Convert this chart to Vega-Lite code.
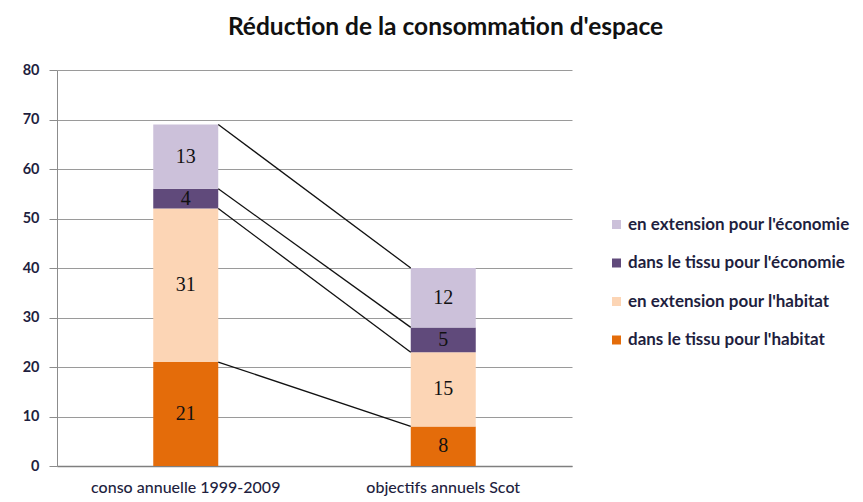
{
  "$schema": "https://vega.github.io/schema/vega-lite/v6.json",
  "width": 515,
  "height": 396,
  "autosize": {"type": "none"},
  "padding": {"left": 57, "top": 70, "right": 291, "bottom": 36},
  "background": "white",
  "title": {
    "text": "Réduction de la consommation d'espace",
    "font": "Lato",
    "fontSize": 24.5,
    "fontWeight": "bold",
    "color": "#111111",
    "anchor": "middle",
    "dx": 131,
    "offset": 22
  },
  "config": {
    "view": {"stroke": null},
    "axis": {"labelFont": "Lato", "labelColor": "#1f1f3f"}
  },
  "data": {
    "values": [
      {"cat": "conso annuelle 1999-2009", "serie": "dans le tissu pour l'habitat", "value": 21, "k": 1},
      {"cat": "conso annuelle 1999-2009", "serie": "en extension pour l'habitat", "value": 31, "k": 2},
      {"cat": "conso annuelle 1999-2009", "serie": "dans le tissu pour l'économie", "value": 4, "k": 3},
      {"cat": "conso annuelle 1999-2009", "serie": "en extension pour l'économie", "value": 13, "k": 4},
      {"cat": "objectifs annuels Scot", "serie": "dans le tissu pour l'habitat", "value": 8, "k": 1},
      {"cat": "objectifs annuels Scot", "serie": "en extension pour l'habitat", "value": 15, "k": 2},
      {"cat": "objectifs annuels Scot", "serie": "dans le tissu pour l'économie", "value": 5, "k": 3},
      {"cat": "objectifs annuels Scot", "serie": "en extension pour l'économie", "value": 12, "k": 4}
    ]
  },
  "transform": [
    {"stack": "value", "groupby": ["cat"], "sort": [{"field": "k", "order": "ascending"}], "as": ["y0", "y1"]}
  ],
  "layer": [
    {
      "mark": {"type": "bar", "size": 65},
      "encoding": {
        "x": {
          "field": "cat", "type": "nominal",
          "scale": {"paddingInner": 0, "paddingOuter": 0},
          "sort": ["conso annuelle 1999-2009", "objectifs annuels Scot"],
          "axis": {"title": null, "labelAngle": 0, "ticks": false, "domainColor": "#7f7f7f", "domainWidth": 1.5, "labelFontSize": 16, "labelFontWeight": 500, "labelPadding": 13, "labelLimit": 400}
        },
        "y": {
          "field": "y1", "type": "quantitative",
          "scale": {"domain": [0, 80]},
          "axis": {"title": null, "values": [0,10,20,30,40,50,60,70,80], "tickSize": 8, "tickColor": "#8c8c8c", "domainColor": "#8c8c8c", "gridColor": "#9a9a9a", "labelFontSize": 14.5, "labelFontWeight": "bold", "labelPadding": 10}
        },
        "y2": {"field": "y0"},
        "color": {
          "field": "serie", "type": "nominal",
          "scale": {
            "domain": ["en extension pour l'économie", "dans le tissu pour l'économie", "en extension pour l'habitat", "dans le tissu pour l'habitat"],
            "range": ["#ccc1da", "#604a7b", "#fcd5b5", "#e46c0a"]
          },
          "legend": {
            "title": null, "orient": "none", "legendX": 551, "legendY": 146,
            "symbolType": "square", "symbolSize": 81, "symbolStrokeWidth": 0,
            "labelFont": "Lato", "labelFontSize": 17, "labelFontWeight": "bold", "labelColor": "#1f1f3f",
            "labelLimit": 400, "rowPadding": 20.5, "labelOffset": 3
          }
        }
      }
    },
    {
      "transform": [
        {"pivot": "cat", "value": "y1", "groupby": ["serie"]}
      ],
      "mark": {"type": "rule", "color": "#111111", "strokeWidth": 1.3, "xOffset": 32.5, "x2Offset": -32.5},
      "encoding": {
        "x": {"datum": "conso annuelle 1999-2009"},
        "x2": {"datum": "objectifs annuels Scot"},
        "y": {"field": "conso annuelle 1999-2009", "type": "quantitative"},
        "y2": {"field": "objectifs annuels Scot"}
      }
    },
    {
      "transform": [{"calculate": "(datum.y0 + datum.y1) / 2", "as": "ymid"}],
      "mark": {"type": "text", "font": "Liberation Serif", "fontSize": 20, "color": "#111111", "baseline": "middle"},
      "encoding": {
        "x": {"field": "cat", "type": "nominal"},
        "y": {"field": "ymid", "type": "quantitative"},
        "text": {"field": "value", "type": "quantitative"}
      }
    }
  ]
}
